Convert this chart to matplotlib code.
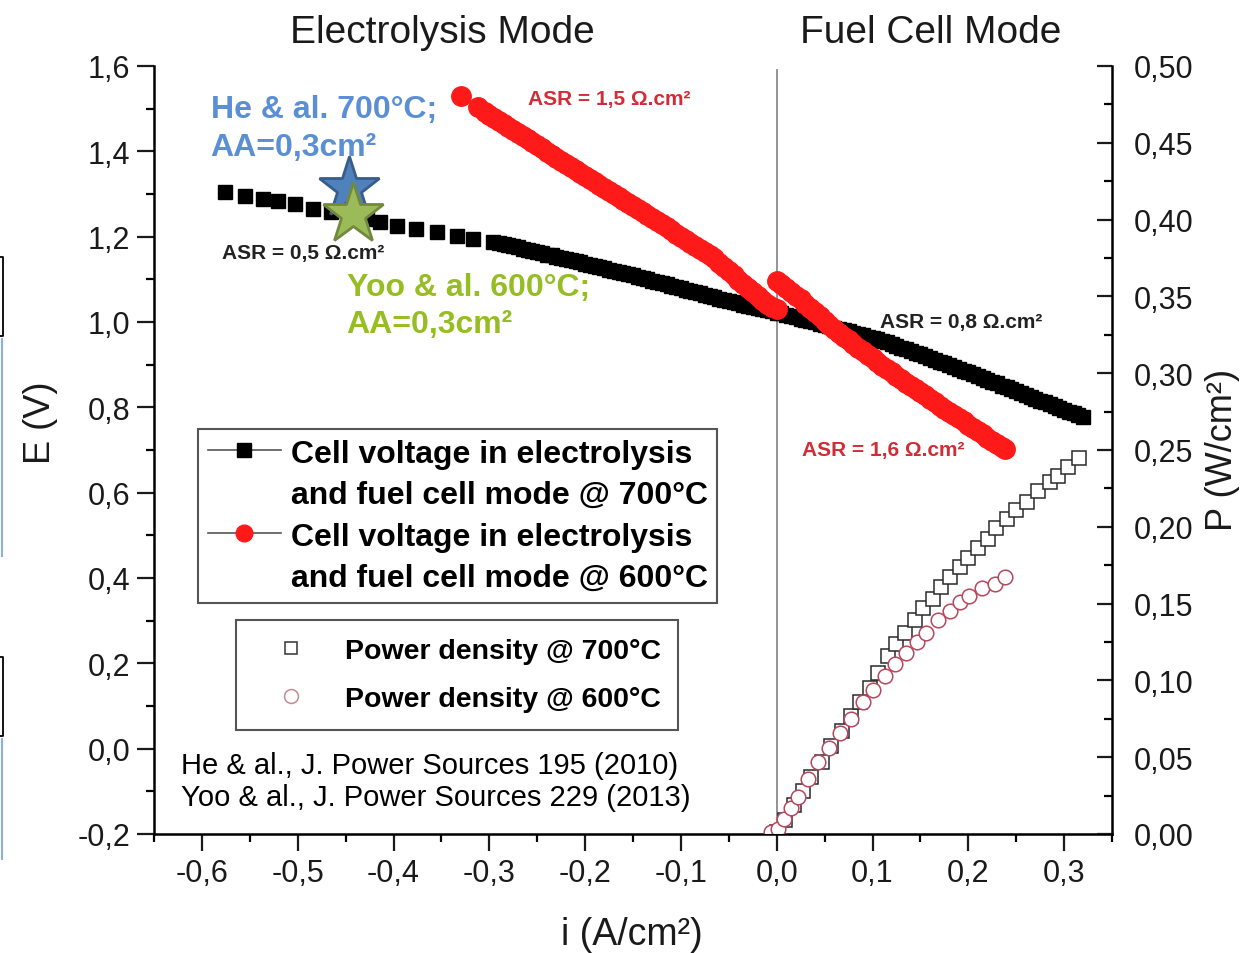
import matplotlib
matplotlib.use("Agg")
import matplotlib.pyplot as plt
from matplotlib.lines import Line2D
from matplotlib.ticker import MultipleLocator, FuncFormatter

plt.rcParams['font.family'] = ['Liberation Sans', 'DejaVu Sans']

# cell voltage @ 700°C, electrolysis (i < 0) and fuel cell (i > 0)
i_700 = [-0.576, -0.555, -0.536, -0.521, -0.503, -0.484, -0.465, -0.446, -0.428,
         -0.414, -0.396, -0.376, -0.355, -0.334, -0.317, -0.296,
         -0.290, -0.285, -0.280, -0.275, -0.270, -0.265, -0.260, -0.255, -0.250, -0.245,
         -0.240, -0.235, -0.230, -0.225, -0.220, -0.215, -0.210, -0.205, -0.200, -0.195,
         -0.190, -0.185, -0.180, -0.175, -0.170, -0.165, -0.160, -0.155, -0.150, -0.145,
         -0.140, -0.135, -0.130, -0.125, -0.120, -0.115, -0.110, -0.105, -0.100, -0.095,
         -0.090, -0.085, -0.080, -0.075, -0.070, -0.065, -0.060, -0.055, -0.050, -0.045,
         -0.040, -0.035, -0.030, -0.025, -0.020, -0.015, -0.010, -0.005, 0.000, 0.005,
         0.010, 0.015, 0.020, 0.025, 0.030, 0.035, 0.040, 0.045, 0.050, 0.055,
         0.060, 0.065, 0.070, 0.075, 0.080, 0.085, 0.090, 0.095, 0.100, 0.105,
         0.110, 0.115, 0.120, 0.125, 0.130, 0.135, 0.140, 0.145, 0.150, 0.155,
         0.160, 0.165, 0.170, 0.175, 0.180, 0.185, 0.190, 0.195, 0.200, 0.205,
         0.210, 0.215, 0.220, 0.225, 0.230, 0.235, 0.240, 0.245, 0.250, 0.255,
         0.260, 0.265, 0.270, 0.275, 0.280, 0.285, 0.290, 0.295, 0.300, 0.305,
         0.310, 0.315, 0.320]
e_700 = [1.305, 1.296, 1.288, 1.284, 1.276, 1.266, 1.257, 1.250, 1.242,
         1.234, 1.226, 1.218, 1.210, 1.202, 1.194, 1.188,
         1.185, 1.183, 1.180, 1.177, 1.175, 1.172, 1.169, 1.167, 1.164, 1.161,
         1.158, 1.156, 1.153, 1.150, 1.147, 1.145, 1.142, 1.140, 1.137, 1.134,
         1.131, 1.129, 1.126, 1.123, 1.120, 1.118, 1.115, 1.112, 1.109, 1.106,
         1.103, 1.100, 1.097, 1.094, 1.091, 1.088, 1.085, 1.082, 1.079, 1.076,
         1.073, 1.070, 1.067, 1.064, 1.061, 1.058, 1.055, 1.052, 1.049, 1.047,
         1.044, 1.041, 1.038, 1.035, 1.032, 1.030, 1.027, 1.025, 1.022, 1.020,
         1.017, 1.014, 1.011, 1.008, 1.005, 1.002, 0.999, 0.996, 0.993, 0.990,
         0.987, 0.984, 0.981, 0.978, 0.975, 0.972, 0.969, 0.966, 0.962, 0.959,
         0.955, 0.952, 0.948, 0.944, 0.940, 0.936, 0.932, 0.928, 0.924, 0.920,
         0.916, 0.911, 0.907, 0.903, 0.899, 0.894, 0.890, 0.886, 0.882, 0.877,
         0.873, 0.868, 0.864, 0.860, 0.856, 0.851, 0.847, 0.842, 0.838, 0.833,
         0.829, 0.824, 0.820, 0.816, 0.812, 0.807, 0.803, 0.798, 0.794, 0.790,
         0.786, 0.781, 0.777]

# cell voltage @ 600°C, electrolysis branch
i_600_ec = [-0.330, -0.312, -0.305, -0.300, -0.295, -0.290, -0.285, -0.280, -0.275, -0.270,
            -0.265, -0.260, -0.255, -0.250, -0.245, -0.240, -0.235, -0.230, -0.225, -0.220,
            -0.215, -0.210, -0.205, -0.200, -0.195, -0.190, -0.185, -0.180, -0.175, -0.170,
            -0.165, -0.160, -0.155, -0.150, -0.145, -0.140, -0.135, -0.130, -0.125, -0.120,
            -0.115, -0.110, -0.105, -0.100, -0.095, -0.090, -0.085, -0.080, -0.075, -0.070,
            -0.065, -0.060, -0.055, -0.050, -0.045, -0.040, -0.035, -0.030, -0.025, -0.020,
            -0.015, -0.010, -0.005, 0.000]
e_600_ec = [1.530, 1.503, 1.493, 1.486, 1.479, 1.472, 1.465, 1.458, 1.451, 1.444,
            1.437, 1.429, 1.422, 1.414, 1.407, 1.399, 1.392, 1.384, 1.377, 1.370,
            1.363, 1.356, 1.349, 1.342, 1.335, 1.328, 1.321, 1.314, 1.307, 1.300,
            1.293, 1.286, 1.279, 1.272, 1.265, 1.257, 1.250, 1.243, 1.236, 1.229,
            1.222, 1.215, 1.207, 1.200, 1.193, 1.186, 1.179, 1.172, 1.165, 1.158,
            1.149, 1.139, 1.129, 1.119, 1.109, 1.099, 1.090, 1.080, 1.070, 1.060,
            1.051, 1.043, 1.036, 1.030]

# cell voltage @ 600°C, fuel cell branch
i_600_fc = [0.000, 0.005, 0.010, 0.015, 0.020, 0.025, 0.030, 0.035, 0.040, 0.045,
            0.050, 0.055, 0.060, 0.065, 0.070, 0.075, 0.080, 0.085, 0.090, 0.095,
            0.100, 0.105, 0.110, 0.115, 0.120, 0.125, 0.130, 0.135, 0.140, 0.145,
            0.150, 0.155, 0.160, 0.165, 0.170, 0.175, 0.180, 0.185, 0.190, 0.195,
            0.200, 0.205, 0.210, 0.215, 0.220, 0.225, 0.230, 0.235, 0.238]
e_600_fc = [1.097, 1.089, 1.080, 1.071, 1.062, 1.053, 1.043, 1.033, 1.023, 1.013,
            1.003, 0.993, 0.984, 0.975, 0.966, 0.957, 0.949, 0.940, 0.932, 0.923,
            0.915, 0.906, 0.898, 0.890, 0.882, 0.874, 0.866, 0.858, 0.850, 0.843,
            0.835, 0.828, 0.820, 0.812, 0.804, 0.797, 0.789, 0.782, 0.774, 0.767,
            0.759, 0.752, 0.744, 0.737, 0.729, 0.722, 0.714, 0.707, 0.702]

# power density (right axis)
i_p700 = [0.000, 0.009, 0.018, 0.027, 0.036, 0.047, 0.057, 0.068, 0.078, 0.087, 0.097,
          0.106, 0.116, 0.125, 0.134, 0.144, 0.153, 0.163, 0.172, 0.181, 0.191, 0.200,
          0.210, 0.221, 0.229, 0.240, 0.250, 0.261, 0.273, 0.285, 0.294, 0.304, 0.316]
p_700 = [0.001, 0.009, 0.019, 0.028, 0.037, 0.047, 0.057, 0.067, 0.077, 0.086, 0.095,
         0.105, 0.116, 0.124, 0.131, 0.139, 0.147, 0.153, 0.161, 0.167, 0.174, 0.180,
         0.186, 0.192, 0.199, 0.205, 0.211, 0.216, 0.223, 0.229, 0.233, 0.239, 0.245]
i_p600 = [-0.006, 0.001, 0.008, 0.015, 0.022, 0.033, 0.043, 0.055, 0.066, 0.078, 0.090, 0.101,
          0.113, 0.123, 0.135, 0.146, 0.156, 0.168, 0.181, 0.191, 0.201, 0.214, 0.228, 0.238]
p_600 = [0.001, 0.003, 0.010, 0.017, 0.024, 0.036, 0.047, 0.056, 0.066, 0.075, 0.086, 0.094,
         0.103, 0.111, 0.118, 0.125, 0.131, 0.139, 0.145, 0.151, 0.155, 0.160, 0.163, 0.167]

# literature points (He 700°C, Yoo 600°C)
he_i, he_e = [-0.446], [1.315]
yoo_i, yoo_e = [-0.442], [1.253]

W, H = 1243, 954
fig = plt.figure(figsize=(W / 100, H / 100), dpi=100)
ax = fig.add_axes([154 / W, 119 / H, 958 / W, 768 / H])
ax.set_xlim(-0.65, 0.35)
ax.set_ylim(-0.2, 1.6)

def comma_fmt(decimals):
    def f(v, pos):
        if abs(v) < 1e-9:
            v = 0.0
        return f"{v:.{decimals}f}".replace('.', ',')
    return FuncFormatter(f)

ax.xaxis.set_major_locator(MultipleLocator(0.1))
ax.xaxis.set_minor_locator(MultipleLocator(0.05))
ax.yaxis.set_major_locator(MultipleLocator(0.2))
ax.yaxis.set_minor_locator(MultipleLocator(0.1))
ax.xaxis.set_major_formatter(comma_fmt(1))
ax.yaxis.set_major_formatter(comma_fmt(1))
ax.tick_params(which='major', direction='out', length=12, width=1.6, labelsize=22,
               pad=5, colors='#1a1a1a')
ax.tick_params(which='minor', direction='out', length=6, width=1.6)
ax.tick_params(top=False, right=False, which='both')
for side in ['top', 'right']:
    ax.spines[side].set_visible(False)
for side in ['left', 'bottom']:
    ax.spines[side].set_linewidth(1.8)

ax.axvline(0, ymax=0.995, color='#808080', lw=1.2, zorder=1)

ax.plot(i_700, e_700, linestyle='none', marker='s', ms=10.5, mfc='black', mec='black', zorder=3)
ax.plot(i_600_ec, e_600_ec, linestyle='none', marker='o', ms=14, mfc='#ff1a1a', mec='#ff1a1a', zorder=4)
ax.plot(i_600_fc, e_600_fc, linestyle='none', marker='o', ms=14, mfc='#ff1a1a', mec='#ff1a1a', zorder=4)

ax.plot(he_i, he_e, marker='*', ms=46, mfc='#4f81bd', mec='#385d8a', mew=2, zorder=5)
ax.plot(yoo_i, yoo_e, marker='*', ms=46, mfc='#9bbb59', mec='#71893f', mew=2, zorder=6)

# ASR annotations
ax.text(-0.260, 1.523, 'ASR = 1,5 Ω.cm²', color='#d22c36', fontsize=15, fontweight='bold',
        ha='left', va='center')
ax.text(-0.579, 1.164, 'ASR = 0,5 Ω.cm²', color='#222222', fontsize=15, fontweight='bold',
        ha='left', va='center')
ax.text(0.1075, 1.002, 'ASR = 0,8 Ω.cm²', color='#222222', fontsize=15, fontweight='bold',
        ha='left', va='center')
ax.text(0.026, 0.700, 'ASR = 1,6 Ω.cm²', color='#d22c36', fontsize=15, fontweight='bold',
        ha='left', va='center')

ax.text(-0.591, 1.4546, 'He & al. 700°C;\nAA=0,3cm²', color='#5a8fd6', fontsize=23,
        fontweight='bold', ha='left', va='center', linespacing=1.35, zorder=7)
ax.text(-0.449, 1.0386, 'Yoo & al. 600°C;\nAA=0,3cm²', color='#96bd22', fontsize=23,
        fontweight='bold', ha='left', va='center', linespacing=1.3, zorder=7)
ax.text(-0.622, -0.0758, 'He & al., J. Power Sources 195 (2010)\nYoo & al., J. Power Sources 229 (2013)',
        color='black', fontsize=21, ha='left', va='center', linespacing=1.22)

# power density on the right axis
ax2 = ax.twinx()
ax2.set_ylim(0, 0.5)
ax2.yaxis.set_major_locator(MultipleLocator(0.05))
ax2.yaxis.set_minor_locator(MultipleLocator(0.025))
ax2.yaxis.set_major_formatter(comma_fmt(2))
ax2.tick_params(which='major', direction='in', length=11, width=1.6, labelsize=22,
                pad=16, colors='#1a1a1a')
ax2.tick_params(which='minor', direction='in', length=6, width=1.6)
for side in ['top', 'left']:
    ax2.spines[side].set_visible(False)
ax2.spines['right'].set_linewidth(1.8)

ax2.plot(i_p700, p_700, linestyle='none', marker='s', ms=9.5, mfc='white', mec='#2a2a2a', mew=1.1)
ax2.plot(i_p600, p_600, linestyle='none', marker='o', ms=10.5, mfc='white', mec='#b8475c', mew=1.1)

# axis titles and mode headers
fig.text(40 / W, 1 - 423 / H, 'E (V)', rotation=90, ha='center', va='center', fontsize=26, color='#1a1a1a')
fig.text(1222 / W, 1 - 450 / H, 'P (W/cm²)', rotation=90, ha='center', va='center', fontsize=26, color='#1a1a1a')
fig.text(632 / W, 1 - 935 / H, 'i (A/cm²)', ha='center', va='center', fontsize=27, color='#1a1a1a')
fig.text(442 / W, 1 - 33 / H, 'Electrolysis Mode', ha='center', va='center', fontsize=28, color='#1a1a1a')
fig.text(931 / W, 1 - 33 / H, 'Fuel Cell Mode', ha='center', va='center', fontsize=28, color='#1a1a1a')

# voltage legend
h_700 = Line2D([], [], color='#555555', lw=1.2, marker='s', ms=10, mfc='black', mec='black')
h_600 = Line2D([], [], color='#555555', lw=1.2, marker='o', ms=12, mfc='#ff1a1a', mec='#ff1a1a')
blank = Line2D([], [], linestyle='none')
leg1 = fig.legend([h_700, blank, h_600, blank],
                  ['Cell voltage in electrolysis', 'and fuel cell mode @ 700°C',
                   'Cell voltage in electrolysis', 'and fuel cell mode @ 600°C'],
                  loc='upper left', bbox_to_anchor=(198 / W, 1 - 430 / H),
                  bbox_transform=fig.transFigure, prop=dict(weight='bold', size=23),
                  fancybox=False, framealpha=1, edgecolor='#555555',
                  handlelength=2.3, handletextpad=0.3, borderpad=0.3,
                  labelspacing=0.36, borderaxespad=0)
leg1.get_frame().set_linewidth(1.5)

# power density legend
hp_700 = Line2D([], [], linestyle='none', marker='s', ms=9, mfc='white', mec='#333333', mew=1.1)
hp_600 = Line2D([], [], linestyle='none', marker='o', ms=10, mfc='white', mec='#c48a98', mew=1.1)
leg2 = fig.legend([hp_700, hp_600], ['Power density @ 700°C', 'Power density @ 600°C'],
                  loc='upper left', bbox_to_anchor=(236 / W, 1 - 621 / H),
                  bbox_transform=fig.transFigure, prop=dict(weight='bold', size=20.5),
                  fancybox=False, framealpha=1, edgecolor='#555555',
                  handlelength=2.6, handletextpad=0.6, borderpad=0.62,
                  labelspacing=0.8, borderaxespad=0)
leg2.get_frame().set_linewidth(1.5)

# slide frame edges along the left border
for top, bot in [(258, 337), (658, 737)]:
    fig.add_artist(Line2D([0, 3 / W, 3 / W, 0], [1 - top / H, 1 - top / H, 1 - bot / H, 1 - bot / H],
                          transform=fig.transFigure, color='black', lw=1.3))
for top, bot in [(340, 557), (740, 860)]:
    fig.add_artist(Line2D([1.5 / W, 1.5 / W], [1 - top / H, 1 - bot / H],
                          transform=fig.transFigure, color='#8fb0dc', lw=1.5))

fig.savefig('out.png', dpi=100)
